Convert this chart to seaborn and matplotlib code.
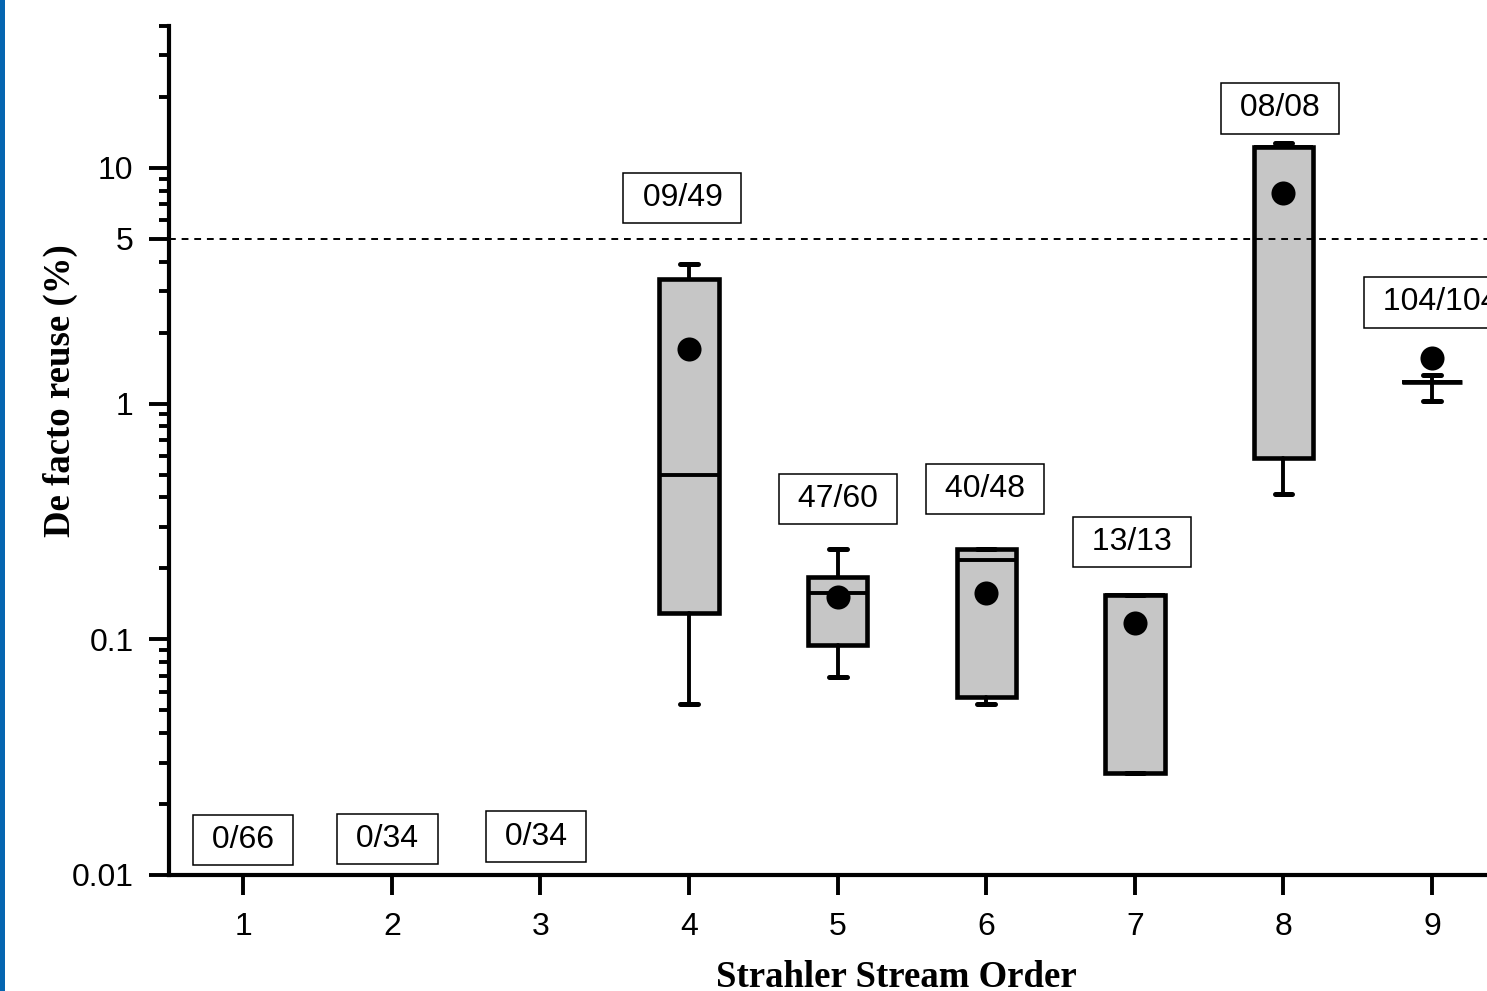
import matplotlib
matplotlib.use("Agg")
from matplotlib import pyplot as plt
from matplotlib.patches import Rectangle
import matplotlib.ticker as mticker
import seaborn as sns
import pandas as pd

# box statistics (de facto reuse, %)
orders = [4, 5, 6, 7, 8, 9]
q1 = [0.129, 0.0946, 0.0571, 0.027, 0.587, 1.239]
med = [0.498, 0.1577, 0.218, 0.154, 12.3, 1.239]
q3 = [3.37, 0.1834, 0.2416, 0.154, 12.3, 1.239]
whislo = [0.0534, 0.0694, 0.0531, 0.027, 0.413, 1.026]
whishi = [3.91, 0.241, 0.2416, 0.154, 12.8, 1.327]
means = [1.70, 0.1514, 0.1567, 0.117, 7.85, 1.566]

# count labels above each order
ann_labels = ['0/66', '0/34', '0/34', '09/49', '47/60', '40/48', '13/13', '08/08', '104/104']
ann_x = [1.0, 1.97, 2.97, 3.955, 5.0, 5.99, 6.98, 7.976, 9.06]
ann_y = [0.0141, 0.0142, 0.01456, 7.45, 0.394, 0.435, 0.259, 17.9, 2.69]

xticks = [1, 2, 3, 4, 5, 6, 7, 8, 9]
yticks = [0.01, 0.1, 1, 5, 10]
ytick_labels = ['0.01', '0.1', '1', '5', '10']
threshold = 5

sns.set_style('ticks')
plt.rcParams['font.family'] = ['Liberation Sans', 'DejaVu Sans']
plt.rcParams['text.color'] = 'black'
plt.rcParams['axes.labelcolor'] = 'black'

fig = plt.figure(figsize=(14.87, 9.91), dpi=100)
ax = fig.add_axes([169 / 1487, 1 - 875 / 991, 1 - 169 / 1487, (875 - 26) / 991])

stats = []
for i in range(len(orders)):
    stats.append(dict(q1=q1[i], med=med[i], q3=q3[i], whislo=whislo[i],
                      whishi=whishi[i], fliers=[]))

ax.bxp(stats, positions=orders, widths=0.4, capwidths=0.12, patch_artist=True,
       showfliers=False, manage_ticks=False,
       boxprops=dict(facecolor='#c6c6c6', edgecolor='black', linewidth=3.3),
       medianprops=dict(color='black', linewidth=2.8),
       whiskerprops=dict(color='black', linewidth=2.8),
       capprops=dict(color='black', linewidth=3.6, solid_capstyle='round'))

df = pd.DataFrame({'order': orders, 'mean': means})
sns.scatterplot(data=df, x='order', y='mean', ax=ax, color='black', s=300,
                linewidth=0, zorder=5)

ax.axhline(threshold, color='black', linewidth=1.4, linestyle=(0, (3.5, 3)), zorder=4)

for lab, x, y in zip(ann_labels, ann_x, ann_y):
    ax.text(x, y, ' ' + lab + ' ', ha='center', va='center', fontsize=23, color='black',
            bbox=dict(boxstyle='square,pad=0.32', facecolor='white',
                      edgecolor='black', linewidth=1.1), zorder=6, clip_on=False)

ax.set_yscale('log')
ax.set_ylim(0.01, 40)
ax.set_xlim(0.5, 9.37)
ax.yaxis.set_major_locator(mticker.FixedLocator(yticks))
ax.yaxis.set_major_formatter(mticker.FixedFormatter(ytick_labels))
ax.yaxis.set_minor_locator(mticker.LogLocator(base=10, subs=range(2, 10), numticks=20))
ax.yaxis.set_minor_formatter(mticker.NullFormatter())
ax.set_xticks(xticks)
ax.set_xticklabels([str(t) for t in xticks])

for side in ['top', 'right']:
    ax.spines[side].set_visible(False)
for side in ['left', 'bottom']:
    ax.spines[side].set_linewidth(3.0)
    ax.spines[side].set_color('black')

ax.tick_params(axis='both', which='major', direction='out', length=14.5, width=2.8,
               labelsize=23, color='black', labelcolor='black',
               bottom=True, left=True)
ax.tick_params(axis='y', which='major', pad=11)
ax.tick_params(axis='x', which='major', pad=12)
ax.tick_params(axis='y', which='minor', direction='out', length=7.5, width=2.8,
               color='black', left=True)
ax.tick_params(axis='x', which='minor', length=0)

ax.set_xlabel('Strahler Stream Order', fontsize=26.5, fontweight='bold', color='black',
              family=['Liberation Serif', 'DejaVu Serif'])
ax.set_ylabel('De facto reuse (%)', fontsize=26.5, fontweight='bold', color='black',
              family=['Liberation Serif', 'DejaVu Serif'])
ax.xaxis.set_label_coords(0.5516, -0.100)
ax.yaxis.set_label_coords(-0.069, 0.571)

# blue strip along the left edge of the picture
fig.patches.append(Rectangle((0, 0), 5 / 1487, 1, transform=fig.transFigure,
                             facecolor='#0565b0', edgecolor='none'))

fig.savefig('out.png', dpi=100)
